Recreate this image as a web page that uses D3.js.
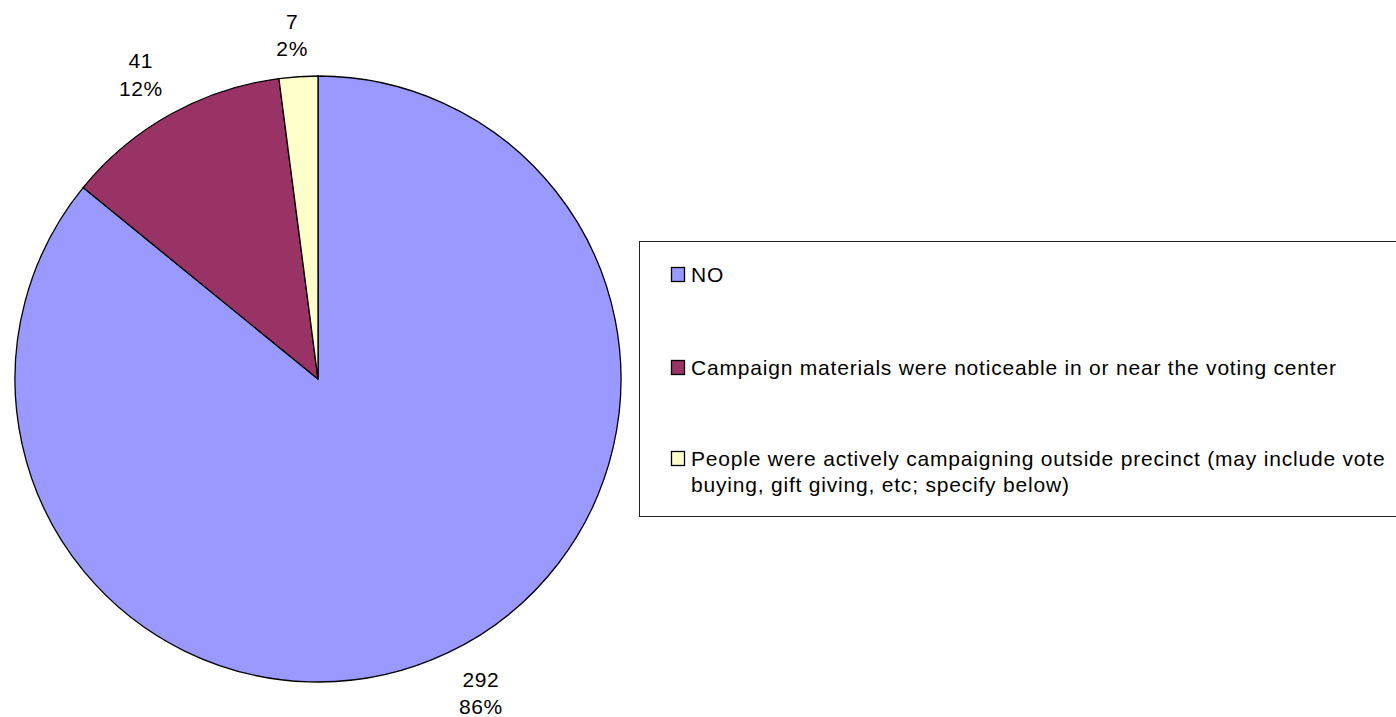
<!DOCTYPE html>
<html><head><meta charset="utf-8">
<script src="https://cdn.jsdelivr.net/npm/d3@7"></script>
<style>body{margin:0;background:#fff}svg{display:block}text{font-family:"Liberation Sans",Arial,sans-serif;fill:#000}</style>
</head><body>
<svg id="c" width="1396" height="717"></svg>
<script>
const categories = ["NO","Campaign materials were noticeable in or near the voting center","People were actively campaigning outside precinct (may include vote buying, gift giving, etc; specify below)"];
const legendLines = [["NO"],["Campaign materials were noticeable in or near the voting center"],["People were actively campaigning outside precinct (may include vote","buying, gift giving, etc; specify below)"]];
const values = [292, 41, 7];
const percents = ["86%","12%","2%"];
const colors = ["#9999FF","#993366","#FFFFCC"];

const svg = d3.select("#c");
const cx = 318, cy = 379, r = 303;
const pie = d3.pie().sort(null).value(d => d)(values);
const arc = d3.arc().innerRadius(0).outerRadius(r);
const g = svg.append("g").attr("transform", `translate(${cx},${cy})`);
g.selectAll("path").data(pie).join("path")
  .attr("d", arc).attr("fill", (d,i) => colors[i])
  .attr("stroke", "#000").attr("stroke-width", 1.3).attr("stroke-linejoin","round");

// label placement: radius from centre and small angular nudge (degrees)
const labelR = [354, 352, 344.5];
const labelNudge = [-2, -1.1, -0.6];
const lab = g.selectAll("g.lab").data(pie).join("g").attr("class","lab")
  .attr("transform", (d,i) => {
    const a = (d.startAngle + d.endAngle) / 2 + labelNudge[i] * Math.PI / 180;
    return `translate(${Math.sin(a) * labelR[i]},${-Math.cos(a) * labelR[i]})`;
  });
lab.append("text").attr("text-anchor","middle").attr("y", -6.5).attr("font-size", 21).attr("letter-spacing", 0.6).text(d => d.value);
lab.append("text").attr("text-anchor","middle").attr("y", 21).attr("font-size", 21).attr("letter-spacing", 0.6).text((d,i) => percents[i]);

// legend
const lx = 639, ly = 241, lw = 780, lh = 275;
svg.append("rect").attr("x", lx + 0.5).attr("y", ly + 0.5).attr("width", lw).attr("height", lh)
  .attr("fill", "#fff").attr("stroke", "#222").attr("stroke-width", 1);
const rowY = [282, 375, 466];
const leg = svg.selectAll("g.leg").data(categories).join("g").attr("class","leg")
  .attr("transform", (d,i) => `translate(0,${rowY[i]})`);
leg.append("rect").attr("x", 671.5).attr("y", -14.5).attr("width", 13).attr("height", 14)
  .attr("fill", (d,i) => colors[i]).attr("stroke", "#000").attr("stroke-width", 1.3);
leg.each(function(d,i){
  const t = d3.select(this).append("text").attr("font-size", 21).attr("letter-spacing", 0.8).attr("y", 0);
  legendLines[i].forEach((ln,j) => t.append("tspan").attr("x", 691).attr("dy", j ? 26 : 0).text(ln));
});
</script>
</body></html>
